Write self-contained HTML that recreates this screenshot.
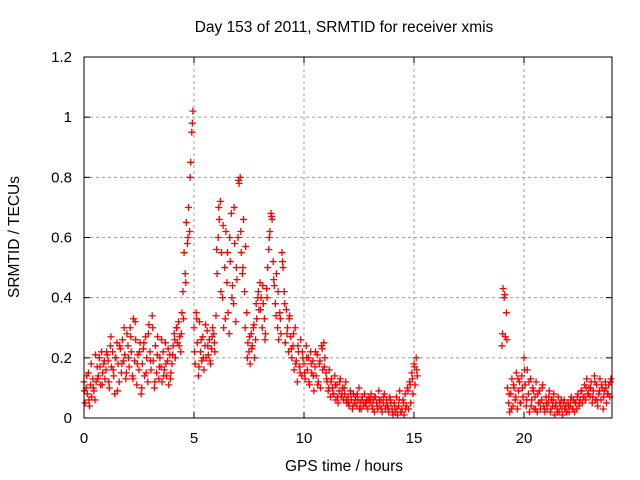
<!DOCTYPE html>
<html><head><meta charset="utf-8"><style>
body{margin:0;background:#fff}
svg{display:block;font-family:"Liberation Sans",sans-serif}
</style></head><body>
<svg id="chart" width="640" height="480">
<text x="344" y="32" font-size="15.5" text-anchor="middle">Day 153 of 2011, SRMTID for receiver xmis</text>
<text x="344" y="471" font-size="15.5" text-anchor="middle">GPS time / hours</text>
<text transform="translate(19,237) rotate(-90)" font-size="15.5" text-anchor="middle">SRMTID / TECUs</text>
<g id="grid"></g><g id="marks"></g><g id="axes"></g>
</svg>
<script>
const xTicks=[0,5,10,15,20];
const yTicks=[0,0.2,0.4,0.6,0.8,1,1.2];
const yTickLabels=["0","0.2","0.4","0.6","0.8","1","1.2"];
const seg1Start=0, seg2Start=19.0, stepHours=0.05;
const altStart1=0.025, altStart2=19.025, altStep=0.1;
const seg1Values=[
0.12,0.05,0.10,0.08,0.15,0.04,0.11,0.07,0.13,0.09,0.06,0.12,0.17,0.14,0.20,0.11,0.22,0.15,0.18,0.13,
0.16,0.21,0.19,0.10,0.24,0.17,0.22,0.14,0.08,0.20,0.25,0.18,0.12,0.23,0.15,0.26,0.19,0.21,0.13,0.28,
0.24,0.17,0.30,0.22,0.14,0.33,0.19,0.26,0.11,0.21,0.16,0.25,0.08,0.18,0.23,0.14,0.27,0.20,0.12,0.31,
0.22,0.16,0.34,0.19,0.10,0.24,0.15,0.27,0.13,0.20,0.17,0.12,0.22,0.16,0.25,0.14,0.19,0.11,0.21,0.15,
0.18,0.24,0.28,0.20,0.30,0.25,0.32,0.27,0.22,0.35,0.42,0.55,0.48,0.65,0.58,0.70,0.62,0.85,0.95,1.02,
0.30,0.18,0.35,0.25,0.14,0.32,0.22,0.19,0.27,0.16,0.24,0.20,0.29,0.21,0.26,0.18,0.23,0.30,0.28,0.22,
0.34,0.48,0.60,0.66,0.72,0.55,0.40,0.30,0.50,0.62,0.45,0.35,0.28,0.52,0.68,0.44,0.38,0.58,0.32,0.46,
0.60,0.78,0.80,0.55,0.48,0.66,0.42,0.57,0.35,0.25,0.22,0.18,0.28,0.24,0.30,0.20,0.26,0.33,0.40,0.36,
0.45,0.40,0.30,0.38,0.33,0.28,0.43,0.50,0.56,0.62,0.68,0.66,0.52,0.44,0.38,0.48,0.30,0.26,0.35,0.28,
0.55,0.50,0.42,0.25,0.36,0.30,0.22,0.34,0.27,0.20,0.24,0.16,0.30,0.19,0.12,0.22,0.17,0.26,0.14,0.20,
0.18,0.13,0.24,0.16,0.20,0.11,0.22,0.15,0.19,0.09,0.17,0.14,0.21,0.12,0.18,0.10,0.24,0.16,0.25,0.20,
0.15,0.12,0.09,0.16,0.07,0.13,0.10,0.08,0.14,0.06,0.11,0.05,0.09,0.13,0.07,0.10,0.06,0.08,0.12,0.05,
0.07,0.04,0.09,0.06,0.03,0.08,0.05,0.07,0.04,0.06,0.10,0.05,0.03,0.07,0.04,0.08,0.05,0.06,0.03,0.07,
0.05,0.08,0.04,0.06,0.02,0.07,0.05,0.03,0.09,0.04,0.06,0.02,0.05,0.08,0.03,0.06,0.04,0.02,0.07,0.05,
0.03,0.01,0.05,0.02,0.07,0.01,0.04,0.09,0.02,0.03,0.06,0.01,0.08,0.04,0.10,0.03,0.12,0.05,0.15,0.08,
0.18,0.11,0.20,0.14];
const seg2Values=[
0.24,0.43,0.40,0.27,0.35,0.10,0.05,0.02,0.08,0.13,0.04,0.10,0.06,0.15,0.03,0.09,0.12,0.05,0.14,0.07,
0.20,0.11,0.04,0.16,0.08,0.02,0.13,0.06,0.10,0.03,0.07,0.12,0.02,0.05,0.09,0.03,0.06,0.11,0.04,0.02,
0.07,0.03,0.05,0.09,0.02,0.06,0.04,0.08,0.01,0.05,0.03,0.07,0.02,0.04,0.06,0.01,0.05,0.03,0.04,0.02,
0.05,0.02,0.04,0.07,0.03,0.06,0.02,0.05,0.03,0.08,0.04,0.06,0.09,0.05,0.07,0.11,0.06,0.13,0.08,0.10,
0.07,0.12,0.05,0.09,0.14,0.06,0.11,0.04,0.08,0.13,0.06,0.10,0.03,0.09,0.12,0.05,0.08,0.11,0.07,0.13];
const alt1Values=[
0.09,0.14,0.06,0.18,0.10,0.21,0.13,0.17,0.11,0.19,
0.22,0.12,0.27,0.16,0.20,0.09,0.24,0.18,0.30,0.15,
0.20,0.27,0.13,0.32,0.18,0.22,0.10,0.25,0.15,0.28,
0.19,0.30,0.12,0.21,0.17,0.26,0.14,0.18,0.23,0.13,
0.21,0.26,0.30,0.24,0.28,0.33,0.45,0.60,0.80,0.98,
0.22,0.33,0.17,0.26,0.20,0.31,0.24,0.19,0.27,0.25,
0.56,0.70,0.42,0.64,0.33,0.55,0.60,0.40,0.70,0.50,
0.79,0.62,0.50,0.30,0.20,0.27,0.23,0.31,0.38,0.42,
0.36,0.44,0.26,0.40,0.60,0.67,0.46,0.34,0.42,0.33,
0.52,0.38,0.28,0.33,0.23,0.28,0.18,0.24,0.15,0.22,
0.15,0.20,0.12,0.18,0.14,0.22,0.11,0.19,0.23,0.17,
0.13,0.10,0.12,0.08,0.11,0.07,0.12,0.08,0.10,0.06,
0.05,0.08,0.04,0.06,0.08,0.03,0.06,0.05,0.04,0.06,
0.06,0.03,0.07,0.04,0.06,0.03,0.07,0.04,0.03,0.06,
0.02,0.04,0.03,0.06,0.02,0.05,0.03,0.09,0.11,0.13,
0.17,0.16];
const alt2Values=[
0.28,0.41,0.26,0.08,0.03,0.11,0.07,0.13,0.05,0.10,
0.16,0.06,0.12,0.04,0.09,0.03,0.08,0.05,0.10,0.03,
0.05,0.07,0.03,0.06,0.04,0.02,0.05,0.03,0.06,0.02,
0.04,0.06,0.03,0.05,0.07,0.05,0.09,0.07,0.10,0.08,
0.10,0.07,0.12,0.06,0.09,0.11,0.07,0.10,0.08,0.12];

const L=84,R=612,T=57,B=418;
const xs=v=>L+(v/24)*(R-L);
const ys=v=>B-(v/1.2)*(B-T);
const NS="http://www.w3.org/2000/svg";
function mk(tag,attrs,parent){const e=document.createElementNS(NS,tag);for(const k in attrs)e.setAttribute(k,attrs[k]);parent.appendChild(e);return e;}
const grid=document.getElementById('grid'),axes=document.getElementById('axes'),marks=document.getElementById('marks');
xTicks.forEach(t=>{
  const x=xs(t);
  if(t>0){const g=mk('line',{x1:x,x2:x,y1:T,y2:B,stroke:'#a0a0a0','stroke-dasharray':'3,3'},grid);
  
  }
  mk('line',{x1:x,x2:x,y1:B,y2:B-6,stroke:'#000'},axes);
  mk('line',{x1:x,x2:x,y1:T,y2:T+6,stroke:'#000'},axes);
  const lb=mk('text',{x:x,y:443,'font-size':15,'text-anchor':'middle'},axes);lb.textContent=String(t);
  
  
});
yTicks.forEach((t,i)=>{
  const y=ys(t);
  if(t>0&&t<1.2){const g=mk('line',{x1:L,x2:R,y1:y,y2:y,stroke:'#a0a0a0','stroke-dasharray':'3,3'},grid);
  
  }
  mk('line',{x1:L,x2:L+6,y1:y,y2:y,stroke:'#000'},axes);
  mk('line',{x1:R,x2:R-6,y1:y,y2:y,stroke:'#000'},axes);
  const lb=mk('text',{x:72,y:y+5,'font-size':15,'text-anchor':'end'},axes);lb.textContent=yTickLabels[i];
  
  
});
const box=mk('rect',{x:L,y:T,width:R-L,height:B-T,fill:'none',stroke:'#000'},axes);


function plus(t,v){
  const x=xs(t),y=ys(v);
  const p=mk('path',{d:`M${x-3.5} ${y}H${x+3.5}M${x} ${y-3.5}V${y+3.5}`,stroke:'#ff0000','stroke-width':1.3,fill:'none'},marks);
  
  
}
seg1Values.forEach((v,i)=>plus(seg1Start+i*stepHours,v));
seg2Values.forEach((v,i)=>plus(seg2Start+i*stepHours,v));
alt1Values.forEach((v,i)=>plus(altStart1+i*altStep,v));
alt2Values.forEach((v,i)=>plus(altStart2+i*altStep,v));
</script>
</body></html>
